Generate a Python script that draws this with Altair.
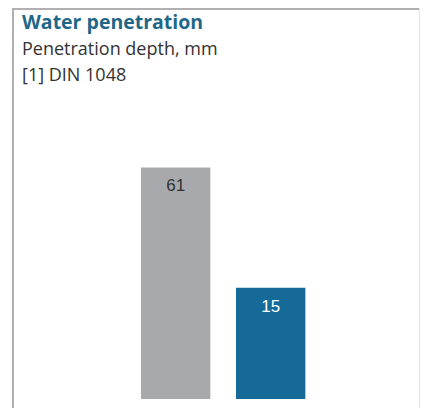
import altair as alt
import pandas as pd

# ---- data -------------------------------------------------------------
TITLE = "Water penetration"
SUBTITLE = ["Penetration depth, mm", "[1] DIN 1048"]
categories = ["Reference", "Product"]
values = [61, 15]

# ---- style / layout ----------------------------------------------------
bar_colors = ["#a8a9ad", "#166a98"]
label_colors = ["#333333", "#ffffff"]
Y_BASE = -27.5
Y_TOP = 121.9
W, H = 412, 400
TEXT_FONT = "Open Sans"

df = pd.DataFrame({"cat": categories, "value": values})
one = alt.Data(values=[{}])

x = alt.X(
    "cat:N", axis=None, sort=categories,
    scale=alt.Scale(range=[133, 297.35], paddingInner=0.27, paddingOuter=0),
)
y = alt.Y(
    "value:Q", axis=None,
    scale=alt.Scale(domain=[Y_BASE, Y_TOP], range=[391, 0], zero=False, nice=False),
)

bars = alt.Chart(df).mark_bar().encode(
    x=x,
    y=y,
    y2=alt.datum(Y_BASE),
    color=alt.Color("cat:N", scale=alt.Scale(domain=categories, range=bar_colors), legend=None),
)

labels = alt.Chart(df).mark_text(
    baseline="alphabetic", align="center", dy=24, font="Liberation Sans", fontSize=17
).encode(
    x=x,
    y=y,
    text=alt.Text("value:Q"),
    color=alt.Color("cat:N", scale=alt.Scale(domain=categories, range=label_colors), legend=None),
)

title = alt.Chart(one).mark_text(
    align="left", baseline="alphabetic", font=TEXT_FONT, fontSize=19.5,
    fontWeight="bold", color="#1f6788",
).encode(x=alt.value(14), y=alt.value(21), text=alt.value(TITLE))

subtitle = alt.Chart(one).mark_text(
    align="left", baseline="alphabetic", font=TEXT_FONT, fontSize=18,
    color="#333333", lineHeight=25.5,
).encode(x=alt.value(14), y=alt.value(47), text=alt.value(SUBTITLE))

left_border = alt.Chart(one).mark_rule(color="#b0b0b2", strokeWidth=2).encode(
    x=alt.value(5), y=alt.value(0), y2=alt.value(H)
)
top_border = alt.Chart(one).mark_rule(color="#b0b0b2", strokeWidth=2).encode(
    y=alt.value(1), x=alt.value(4), x2=alt.value(W)
)
right_border = alt.Chart(one).mark_rule(color="#e4e4e4", strokeWidth=1).encode(
    x=alt.value(W - 0.5), y=alt.value(0), y2=alt.value(H)
)

chart = (
    alt.layer(left_border, top_border, right_border, bars, labels, title, subtitle)
    .resolve_scale(color="independent")
    .properties(width=W, height=H, padding=0, autosize="none", background="white")
    .configure_view(stroke=None)
)

chart.save("out.html", embed_options={"renderer": "svg", "actions": False})
